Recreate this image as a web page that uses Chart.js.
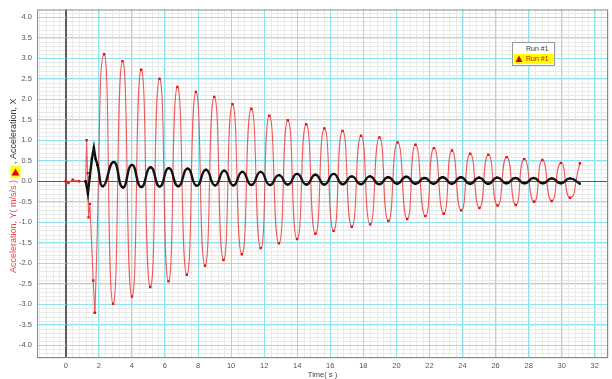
<!DOCTYPE html>
<html>
<head>
<meta charset="utf-8">
<script src="https://cdn.jsdelivr.net/npm/chart.js@4.4.0/dist/chart.umd.min.js"></script>
<style>
  html, body { margin: 0; padding: 0; background: #fff; }
  #wrap { width: 612px; height: 379px; position: relative; }
</style>
</head>
<body>
<div id="wrap"><canvas id="accel_canvas"></canvas></div>
<script>
'use strict';

//  Acceleration Y (red run) - time in s, value in m/s/s
//  first 11 samples = start-up jolt, then peaks and troughs
var redTimes = [0, 0.16, 0.42, 0.8, 1.2, 1.26, 1.32, 1.38, 1.46, 1.66, 1.76,
  2.32, 2.86, 3.43, 4.0, 4.56, 5.11, 5.67, 6.21, 6.75, 7.32, 7.87, 8.42, 8.98, 9.54,
  10.08, 10.65, 11.22, 11.79, 12.31, 12.89, 13.43, 13.99, 14.54, 15.1, 15.64, 16.2,
  16.74, 17.3, 17.86, 18.41, 18.97, 19.51, 20.07, 20.65, 21.15, 21.75, 22.27, 22.86,
  23.36, 23.92, 24.46, 25.02, 25.56, 26.12, 26.67, 27.22, 27.73, 28.33, 28.83, 29.39,
  29.95, 30.5, 31.1];
var redAccel = [0, -0.04, 0.04, 0, 0, 1.0, 0.2, -0.88, -0.55, -2.42, -3.21,
  3.10, -2.99, 2.93, -2.81, 2.72, -2.58, 2.50, -2.44, 2.30, -2.28, 2.18, -2.06, 2.06, -1.92,
  1.88, -1.78, 1.77, -1.63, 1.60, -1.51, 1.49, -1.41, 1.39, -1.28, 1.29, -1.21,
  1.23, -1.11, 1.11, -1.05, 1.07, -0.97, 0.95, -0.92, 0.89, -0.85, 0.81, -0.79,
  0.75, -0.71, 0.67, -0.65, 0.65, -0.59, 0.59, -0.58, 0.54, -0.50, 0.52, -0.48,
  0.45, -0.40, 0.44];
var redJoltCount = 11;

//  Acceleration X (black run), first 8 samples = jolt
var blackTimes = [1.2, 1.28, 1.34, 1.45, 1.58, 1.7, 1.8, 1.92, 2.26, 2.9, 3.45, 4.0, 4.56, 5.13,
  5.68, 6.23, 6.8, 7.37, 7.92, 8.48, 9.03, 9.58, 10.13, 10.68, 11.23, 11.79, 12.34, 12.89, 13.44,
  13.99, 14.55, 15.1, 15.65, 16.2, 16.75, 17.3, 17.85, 18.4, 18.95, 19.5, 20.05, 20.6, 21.15, 21.7,
  22.25, 22.8, 23.35, 23.9, 24.45, 25.0, 25.55, 26.1, 26.65, 27.2, 27.75, 28.3, 28.85, 29.4, 29.95,
  30.5, 31.1];
var blackAccel = [0, -0.15, -0.30, 0.1, 0.55, 0.82, 0.55, 0.40, -0.12, 0.47, -0.15, 0.40, -0.14, 0.34,
  -0.13, 0.32, -0.12, 0.31, -0.11, 0.28, -0.10, 0.26, -0.10, 0.23, -0.09, 0.23, -0.09, 0.15, -0.08,
  0.18, -0.08, 0.16, -0.08, 0.18, -0.07, 0.12, -0.07, 0.12, -0.07, 0.10, -0.06, 0.11, -0.06, 0.08,
  -0.06, 0.10, -0.06, 0.10, -0.06, 0.09, -0.06, 0.09, -0.05, 0.08, -0.05, 0.08, -0.05, 0.07, -0.05,
  0.07, -0.06];
var blackJoltCount = 8;

//  axis ranges / grid steps
var xRange = [-1.74, 32.8],
    yRange = [-4.31, 4.19];
var xMinorStep = 0.4, xMajorStep = 2,
    yMinorStep = 0.1, yMajorStep = 0.5;
var xLabelRange = [0, 32],
    yLabelRange = [-4, 4];

var legendLabels = ['Run #1', 'Run #1'];
var yTitleParts  = ['Acceleration, Y( m/s/s )', ', Acceleration, X'];

var FONT = '"Liberation Sans", Arial, sans-serif';

function toPoints(xs, ys, from, to) {
  var out = [];
  for (var i = from; i < to; i++) {
    out.push({x: xs[i], y: ys[i]});
  }
  return out;
}

function stepValues(lo, hi, step) {
  var out = [],
      k   = Math.ceil(lo / step - 1e-9);
  for (; k * step <= hi + 1e-9; k++) {
    out.push(Math.round(k * step * 1000) / 1000);
  }
  return out;
}

//  minor grid under everything, zero lines over the major grid
var gridPlugin = {
  id: 'minorGrid',
  beforeDraw: function(chart) {
    var c = chart.ctx, a = chart.chartArea,
        sx = chart.scales.x, sy = chart.scales.y;

    c.save();
    c.strokeStyle = '#e9e9e9';
    c.lineWidth = 1;
    c.beginPath();
    stepValues(xRange[0], xRange[1], xMinorStep).forEach(function(v) {
      var px = Math.round(sx.getPixelForValue(v)) + 0.5;
      c.moveTo(px, a.top); c.lineTo(px, a.bottom);
    });
    stepValues(yRange[0], yRange[1], yMinorStep).forEach(function(v) {
      var py = Math.round(sy.getPixelForValue(v)) + 0.5;
      c.moveTo(a.left, py); c.lineTo(a.right, py);
    });
    c.stroke();
    c.restore();
  },
  beforeDatasetsDraw: function(chart) {
    var c = chart.ctx, a = chart.chartArea,
        sx = chart.scales.x, sy = chart.scales.y;
    var px = Math.round(sx.getPixelForValue(0)) + 0.5,
        py = Math.round(sy.getPixelForValue(0)) + 0.5;

    c.save();
    c.strokeStyle = '#5c5c5c';
    c.lineWidth = 1;
    c.beginPath();
    c.moveTo(px, a.top); c.lineTo(px, a.bottom);
    c.moveTo(a.left, py); c.lineTo(a.right, py);
    c.stroke();
    c.restore();
  }
};

//  frame, y title with marker, legend box
var decorPlugin = {
  id: 'decor',
  afterDraw: function(chart) {
    var ctx  = chart.ctx,
        area = chart.chartArea;

    ctx.save();
    ctx.strokeStyle = '#8a8a8a';
    ctx.lineWidth = 1;
    ctx.strokeRect(area.left + 0.5, area.top + 0.5, area.right - area.left - 1, area.bottom - area.top - 1);

    //  y title (rotated)
    var baseX = 14, baseY = 273;
    ctx.font = '9px ' + FONT;
    var w = ctx.measureText(yTitleParts[0]).width;
    ctx.save();
    ctx.translate(baseX, baseY);
    ctx.rotate(-Math.PI / 2);
    ctx.textBaseline = 'middle';
    ctx.textAlign = 'left';
    ctx.fillStyle = '#ec4646';
    ctx.fillText(yTitleParts[0], 0, 0);
    ctx.fillStyle = '#333';
    ctx.fillText(yTitleParts[1], w + 16, 0);
    ctx.restore();

    var boxTop = baseY - w - 14;
    ctx.fillStyle = '#ffff00';
    ctx.fillRect(10.5, boxTop, 10, 12);
    ctx.fillStyle = '#e00000';
    ctx.beginPath();
    ctx.moveTo(15.5, boxTop + 2.5);
    ctx.lineTo(19.5, boxTop + 9.5);
    ctx.lineTo(11.5, boxTop + 9.5);
    ctx.closePath();
    ctx.fill();

    //  legend
    ctx.fillStyle = '#fff';
    ctx.fillRect(512.5, 42.5, 42, 23);
    ctx.strokeStyle = '#9a9a9a';
    ctx.strokeRect(512.5, 42.5, 42, 23);
    ctx.fillStyle = '#ffff00';
    ctx.fillRect(514, 54, 39.5, 10);
    ctx.fillStyle = '#e00000';
    ctx.beginPath();
    ctx.moveTo(519, 55.5);
    ctx.lineTo(522.5, 62);
    ctx.lineTo(515.5, 62);
    ctx.closePath();
    ctx.fill();

    ctx.font = '7px ' + FONT;
    ctx.textBaseline = 'middle';
    ctx.textAlign = 'left';
    ctx.fillStyle = '#333';
    ctx.fillText(legendLabels[0], 526, 49.5);
    ctx.fillStyle = '#e00000';
    ctx.fillText(legendLabels[1], 526, 59.5);
    ctx.restore();
  }
};

function majorColor(ctx) {
  var v = ctx.tick ? ctx.tick.value : 1;
  return Math.abs(v) < 1e-6 ? '#5c5c5c' : '#8fe3ee';
}

var blackStyle = {
  showLine: true,
  borderColor: '#151515',
  borderWidth: 2.4,
  pointRadius: 1.4,
  pointStyle: 'rect',
  pointBackgroundColor: '#000',
  pointBorderWidth: 0
};
var redStyle = {
  showLine: true,
  borderColor: 'rgba(236, 50, 50, 0.8)',
  borderWidth: 1.1,
  pointRadius: 1.7,
  pointStyle: 'rect',
  pointBackgroundColor: '#e41414',
  pointBorderWidth: 0
};

var ctx = document.getElementById('accel_canvas').getContext('2d');

var chart_options = {
  type: 'scatter',
  data: {
    datasets: [
      Object.assign({ label: 'Acceleration, X', tension: 0,
        data: toPoints(blackTimes, blackAccel, 0, blackJoltCount) }, blackStyle),
      Object.assign({ label: 'Acceleration, X', tension: 0.55,
        data: toPoints(blackTimes, blackAccel, blackJoltCount - 1, blackTimes.length) }, blackStyle),
      Object.assign({ label: 'Acceleration, Y', tension: 0,
        data: toPoints(redTimes, redAccel, 0, redJoltCount) }, redStyle),
      Object.assign({ label: 'Acceleration, Y', tension: 0.65,
        data: toPoints(redTimes, redAccel, redJoltCount - 1, redTimes.length) }, redStyle)
    ]
  },
  options: {
    responsive: true,
    maintainAspectRatio: false,
    animation: false,
    layout: { padding: { left: 0, right: 1, top: 7, bottom: 0 } },
    plugins: {
      legend: { display: false },
      tooltip: { enabled: false }
    },
    scales: {
      x: {
        type: 'linear',
        min: xRange[0],
        max: xRange[1],
        afterBuildTicks: function(scale) {
          scale.ticks = stepValues(xLabelRange[0], xLabelRange[1], xMajorStep).map(function(v) { return {value: v}; });
        },
        afterFit: function(scale) { scale.height = 21; },
        ticks: {
          autoSkip: false,
          maxRotation: 0,
          padding: 3,
          color: '#555',
          font: { size: 7.5, family: FONT },
          callback: function(v) { return String(Math.round(v)); }
        },
        grid: { color: majorColor, lineWidth: 1, drawTicks: false },
        border: { display: false },
        title: {
          display: true,
          text: 'Time( s )',
          color: '#444',
          font: { size: 7.5, family: FONT },
          padding: { top: 0, bottom: 0 }
        }
      },
      y: {
        type: 'linear',
        min: yRange[0],
        max: yRange[1],
        afterBuildTicks: function(scale) {
          scale.ticks = stepValues(yLabelRange[0], yLabelRange[1], yMajorStep).map(function(v) { return {value: v}; });
        },
        afterFit: function(scale) { scale.width = 37; },
        ticks: {
          autoSkip: false,
          padding: 5,
          color: '#555',
          font: { size: 7.5, family: FONT },
          callback: function(v) { return v.toFixed(1); }
        },
        grid: { color: majorColor, lineWidth: 1, drawTicks: false },
        border: { display: false }
      }
    }
  },
  plugins: [gridPlugin, decorPlugin]
};

var accelChart = new Chart(ctx, chart_options);
</script>
</body>
</html>
